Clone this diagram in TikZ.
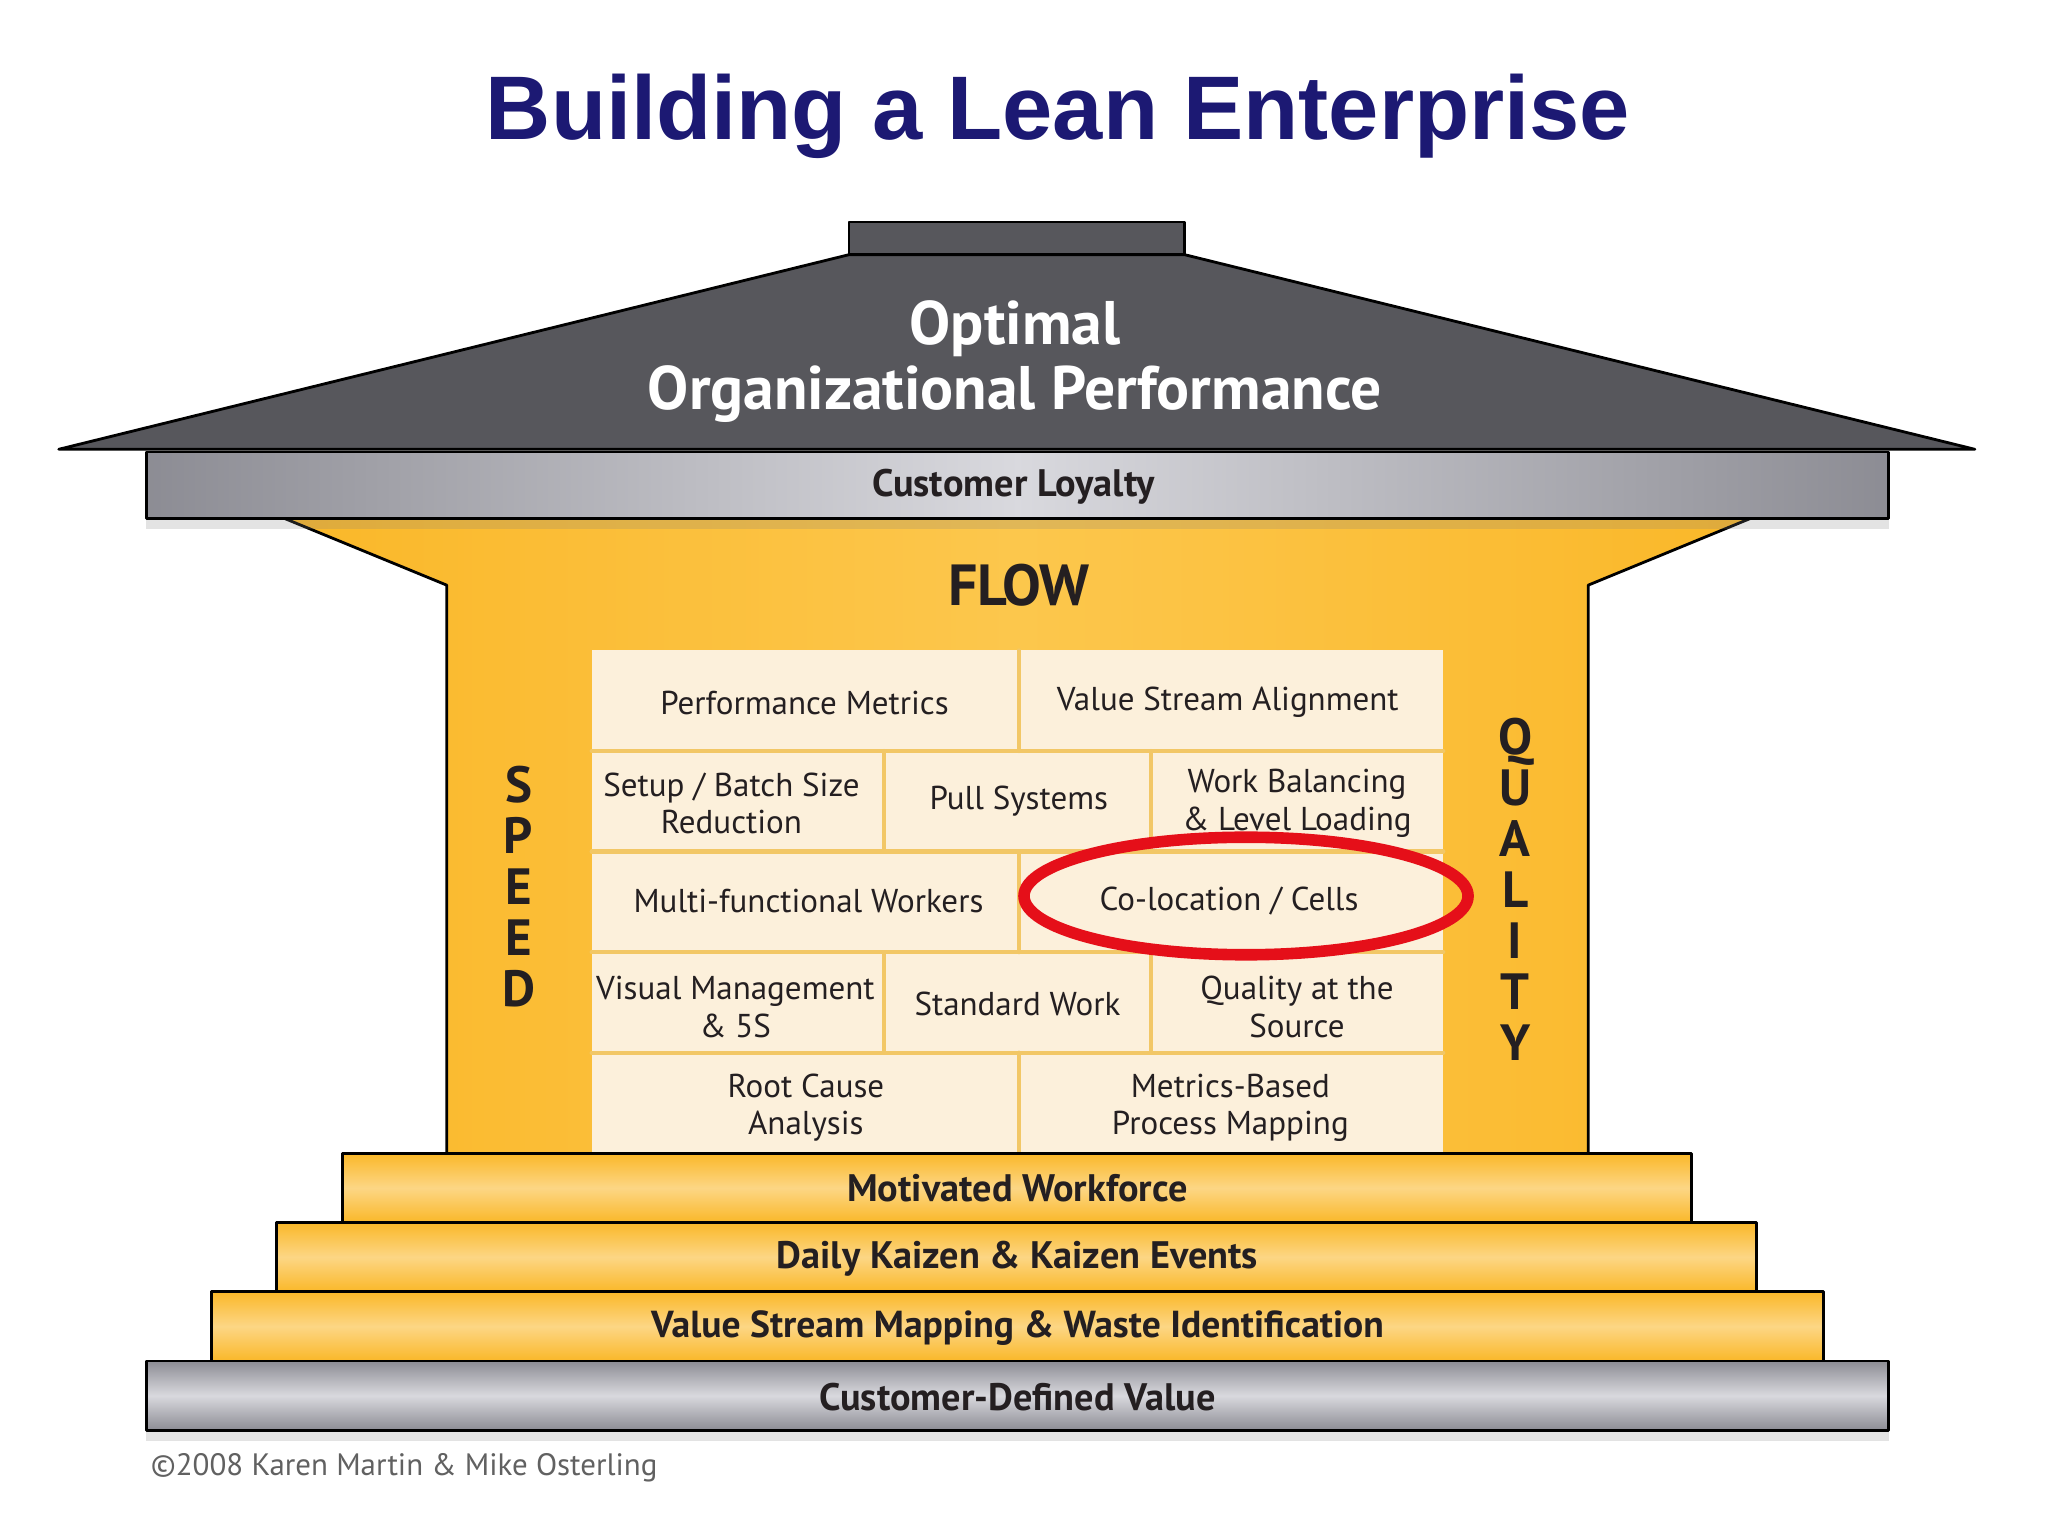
\documentclass[tikz,border=0pt]{standalone}
\usepackage{fontspec}
\setmainfont{PT Sans}
\newfontfamily\titlefont{Liberation Sans}
\usepackage{tikz}
\usetikzlibrary{calc}
\usetikzlibrary{shadows}
\definecolor{roofgray}{rgb}{0.34,0.34,0.36}
\definecolor{banddark}{rgb}{0.55,0.55,0.58}
\definecolor{bandlight}{rgb}{0.85,0.85,0.87}
\definecolor{flowyellow}{rgb}{0.98,0.72,0.16}
\definecolor{bodylight}{rgb}{0.99,0.78,0.30}
\definecolor{lightyellow}{rgb}{0.99,0.84,0.52}
\definecolor{cream}{rgb}{0.99,0.94,0.86}
\definecolor{gridgold}{rgb}{0.95,0.78,0.40}
\definecolor{circlered}{rgb}{0.90,0.06,0.10}
\definecolor{titlenavy}{rgb}{0.11,0.10,0.45}
\definecolor{textdark}{rgb}{0.14,0.12,0.13}
\tikzstyle{every node}=[text=textdark]
\tikzstyle{celltext}=[align=center,font=\fontsize{9.4}{10.6}\selectfont]
\tikzstyle{bandtext}=[font=\bfseries\fontsize{10.9}{13}\selectfont]
\tikzstyle{stepband}=[draw=black,line width=0.8pt,top color=flowyellow,bottom color=flowyellow,middle color=lightyellow]
\tikzstyle{grayband}=[draw=black,line width=0.8pt,top color=banddark,bottom color=banddark,middle color=bandlight]
\tikzstyle{gridline}=[line width=1.2pt,color=gridgold]
\tikzstyle{pillar}=[align=center,font=\bfseries\fontsize{14.5}{14.5}\selectfont]
\tikzstyle{softshadow}=[drop shadow={opacity=0.22,shadow xshift=0pt,shadow yshift=-3pt}]

\begin{document}
\begin{tikzpicture}[line cap=round,line join=round,x=0.0130612cm,y=-0.0130612cm]
            \clip(0,0) rectangle (1568,1176);
            \fill [white] (0,0) rectangle (1568,1176);
            \node (title) at (810,89) {\titlefont\bfseries\fontsize{25.7}{30}\selectfont\color{titlenavy}Building a Lean Enterprise};
            % body of the house
            \shade [left color=flowyellow,right color=flowyellow,middle color=bodylight] (218,397) -- (342,448) -- (342,884) -- (1216,884) -- (1216,448) -- (1340,397) -- cycle;
            \draw [line width=0.8pt] (218,397) -- (342,448) -- (342,884);
            \draw [line width=0.8pt] (1340,397) -- (1216,448) -- (1216,884);
            % grid of cells
            \fill [color=cream] (453,498) rectangle (1105,883);
            \draw [gridline] (453,575) -- (1105,575);
            \draw [gridline] (453,652) -- (1105,652);
            \draw [gridline] (453,729) -- (1105,729);
            \draw [gridline] (453,806) -- (1105,806);
            \draw [gridline] (780,498) -- (780,575);
            \draw [gridline] (677,575) -- (677,652);
            \draw [gridline] (881,575) -- (881,652);
            \draw [gridline] (780,652) -- (780,729);
            \draw [gridline] (677,729) -- (677,806);
            \draw [gridline] (881,729) -- (881,806);
            \draw [gridline] (780,806) -- (780,883);
            \node [celltext] (metrics) at (616,538) {Performance Metrics};
            \node [celltext] (alignment) at (940,538) {Value Stream Alignment};
            \node [celltext] (setup) at (560,615) {Setup / Batch Size\\Reduction};
            \node [celltext] (pull) at (780,613) {Pull Systems};
            \node [celltext] (balancing) at (993,615) {Work Balancing\\\& Level Loading};
            \node [celltext] (workers) at (619,690) {Multi-functional Workers};
            \node [celltext] (cells) at (941,690) {Co-location / Cells};
            \node [celltext] (visual) at (563,771) {Visual Management\\\& 5S};
            \node [celltext] (standard) at (779,769) {Standard Work};
            \node [celltext] (quality) at (993,771) {Quality at the\\Source};
            \node [celltext] (rootcause) at (617,848) {Root Cause\\Analysis};
            \node [celltext] (mapping) at (942,848) {Metrics-Based\\Process Mapping};
            \coordinate (ring) at (954,686);
            \draw [line width=3.3pt,color=circlered] (ring) ellipse (170 and 45);
            \node [font=\bfseries\fontsize{16.5}{18}\selectfont] (flow) at (780,448) {FLOW};
            \node [pillar] (speed) at (397,679) {S\\P\\E\\E\\D};
            \node [pillar] (qualityword) at (1160,681) {Q\\U\\A\\L\\I\\T\\Y};
            % foundation steps
            \draw [stepband] (262,883) rectangle (1295,936);
            \draw [stepband] (212,936) rectangle (1345,989);
            \draw [stepband] (162,989) rectangle (1396,1042);
            \draw [grayband,softshadow] (112,1042) rectangle (1446,1095);
            \node [bandtext] (workforce) at (779,910) {Motivated Workforce};
            \node [bandtext] (kaizen) at (779,964) {Daily Kaizen \& Kaizen Events};
            \node [bandtext,font=\bfseries\fontsize{10.7}{13}\selectfont] (vsm) at (779,1017) {Value Stream Mapping \& Waste Identification};
            \node [bandtext] (value) at (779,1070) {Customer-Defined Value};
            % customer loyalty band and roof
            \draw [line width=0.8pt,softshadow,left color=banddark,right color=banddark,middle color=bandlight] (112,346) rectangle (1446,397);
            \node [bandtext] (loyalty) at (776,373) {Customer Loyalty};
            \draw [line width=0.8pt,fill=roofgray] (650,170) rectangle (907,195);
            \draw [line width=0.8pt,fill=roofgray] (45,344) -- (650,195) -- (907,195) -- (1512,344) -- cycle;
            \node [align=center,text=white,font=\bfseries\fontsize{17.5}{18.5}\selectfont] (optimal) at (777,277) {Optimal\\Organizational Performance};
            \node [anchor=west,inner sep=0pt,text=black!62,font=\fontsize{8.8}{11}\selectfont] (copyright) at (115,1124) {©2008 Karen Martin \& Mike Osterling};
\end{tikzpicture}
\end{document}
